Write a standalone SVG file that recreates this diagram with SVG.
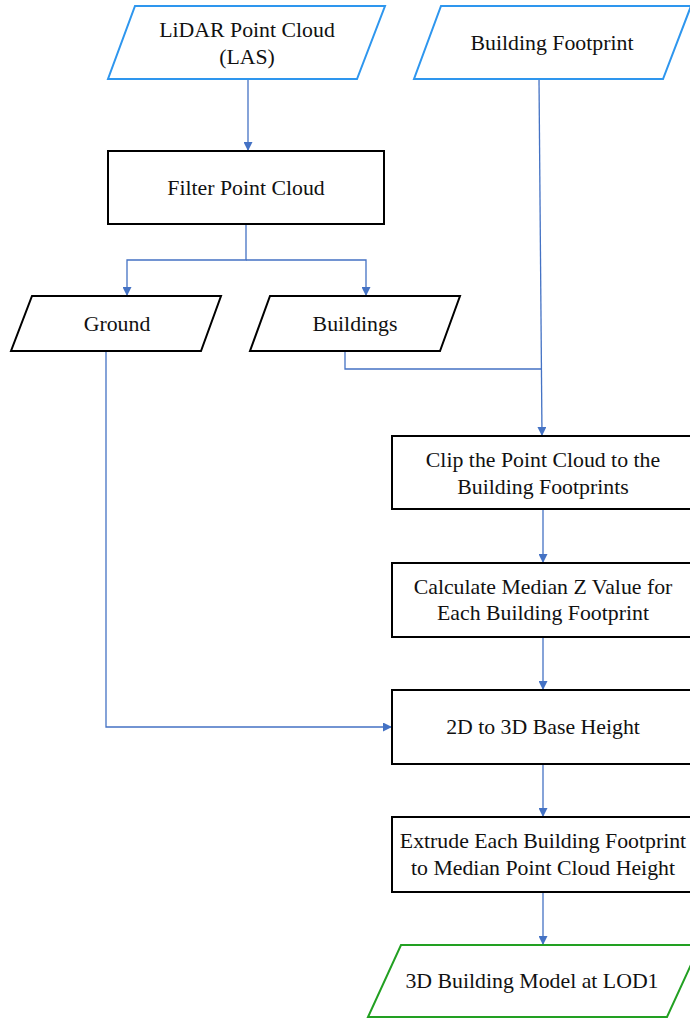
<svg xmlns="http://www.w3.org/2000/svg" width="690" height="1018" viewBox="0 0 690 1018">
<style>
text{font-family:"Liberation Serif","Times New Roman",serif;font-size:21.8px;fill:#111;text-anchor:middle}
.in{fill:#fff;stroke:#2E96EE;stroke-width:2}
.bk{fill:#fff;stroke:#000;stroke-width:2}
.out{fill:#fff;stroke:#22A022;stroke-width:2}
.c{fill:none;stroke:#4472C4;stroke-width:1.3}
</style>
<defs>
<marker id="ah" viewBox="0 0 10 10" refX="10" refY="5" markerWidth="9" markerHeight="9" markerUnits="userSpaceOnUse" orient="auto">
<path d="M0,0L10,5L0,10z" fill="#4472C4"/>
</marker>
</defs>
<rect width="690" height="1018" fill="#fff"/>
<g id="connectors">
<path class="c" d="M248,79V151" marker-end="url(#ah)"/>
<path class="c" d="M246,224V260H127V296" marker-end="url(#ah)"/>
<path class="c" d="M246,260H366V296" marker-end="url(#ah)"/>
<path class="c" d="M539,79L542,436" marker-end="url(#ah)"/>
<path class="c" d="M345,351V369H542"/>
<path class="c" d="M106,351V727H392" marker-end="url(#ah)"/>
<path class="c" d="M543,509V563" marker-end="url(#ah)"/>
<path class="c" d="M543,637V690" marker-end="url(#ah)"/>
<path class="c" d="M543,764V817" marker-end="url(#ah)"/>
<path class="c" d="M543,892V945" marker-end="url(#ah)"/>
</g>
<g id="lidar">
<polygon class="in" points="135,6 385,6 357,79 108,79"/>
<text x="247" y="37">LiDAR Point Cloud</text>
<text x="247" y="64">(LAS)</text>
</g>
<g id="footprint">
<polygon class="in" points="441,6 691,6 663,79 414,79"/>
<text x="552" y="50">Building Footprint</text>
</g>
<g id="filter">
<rect class="bk" x="108" y="151" width="276" height="73"/>
<text x="246" y="195">Filter Point Cloud</text>
</g>
<g id="ground">
<polygon class="bk" points="32,296 221,296 201,351 11,351"/>
<text x="117" y="331">Ground</text>
</g>
<g id="buildings">
<polygon class="bk" points="270,296 460,296 440,351 250,351"/>
<text x="355" y="331">Buildings</text>
</g>
<g id="clip">
<rect class="bk" x="392" y="436" width="302" height="73"/>
<text x="543" y="467">Clip the Point Cloud to the</text>
<text x="543" y="494">Building Footprints</text>
</g>
<g id="median">
<rect class="bk" x="392" y="563" width="302" height="74"/>
<text x="543" y="594">Calculate Median Z Value for</text>
<text x="543" y="620">Each Building Footprint</text>
</g>
<g id="base">
<rect class="bk" x="392" y="690" width="302" height="74"/>
<text x="543" y="734">2D to 3D Base Height</text>
</g>
<g id="extrude">
<rect class="bk" x="392" y="817" width="302" height="75"/>
<text x="543" y="848">Extrude Each Building Footprint</text>
<text x="543" y="875">to Median Point Cloud Height</text>
</g>
<g id="output">
<polygon class="out" points="401,945 700,945 667,1017 368,1017"/>
<text x="532" y="988">3D Building Model at LOD1</text>
</g>
</svg>
